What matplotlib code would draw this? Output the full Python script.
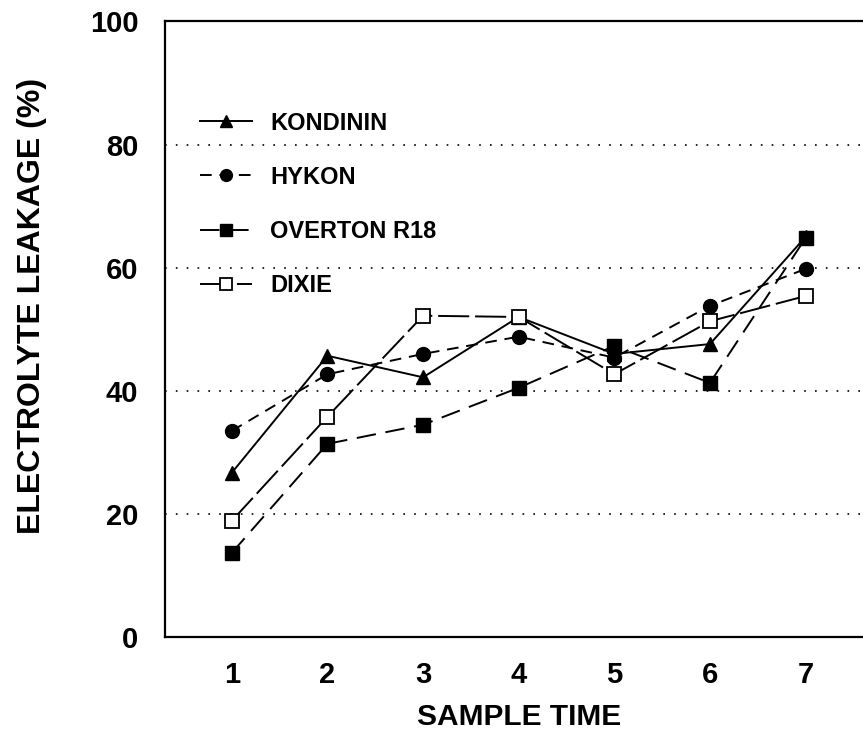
import matplotlib.pyplot as plt

plt.rcParams['font.family'] = ['Liberation Sans', 'DejaVu Sans']
plt.rcParams['font.weight'] = 'bold'

# sample times and leakage values
sample_time = [1, 2, 3, 4, 5, 6, 7]
kondinin = [26.7, 45.7, 42.2, 52.0, 46.0, 47.6, 65.0]
hykon = [33.5, 42.7, 46.0, 48.8, 45.4, 53.8, 59.8]
overton = [13.7, 31.4, 34.5, 40.5, 47.3, 41.3, 64.8]
dixie = [18.9, 35.8, 52.2, 52.0, 42.7, 51.3, 55.4]
grid_levels = [20, 40, 60, 80]

fig = plt.figure(figsize=(8.63, 7.35), dpi=100)
ax = fig.add_axes([0.191, 0.133, 0.82, 0.838])

# dotted reference lines
for g in grid_levels:
    ax.axhline(g, color='black', lw=1.2, ls=(0, (1, 5.5)), zorder=1)

lw = 1.4
ax.plot(sample_time, kondinin, color='black', lw=lw, ls='-',
        marker='^', ms=10, mfc='black', mec='black', label='KONDININ', zorder=3)
ax.plot(sample_time, hykon, color='black', lw=lw, ls=(0, (6, 4)),
        marker='o', ms=10, mfc='black', mec='black', label='HYKON', zorder=3)
ax.plot(sample_time, overton, color='black', lw=lw, ls=(0, (10, 5)),
        marker='s', ms=10, mfc='black', mec='black', label='OVERTON R18', zorder=3)
ax.plot(sample_time, dixie, color='black', lw=lw, ls=(0, (16, 3)),
        marker='s', ms=10, mfc='white', mec='black', mew=1.3, label='DIXIE', zorder=4)

ax.set_xlim(0.3, 7.7)
ax.set_ylim(0, 100)
ax.set_xticks(sample_time)
ax.set_yticks([0, 20, 40, 60, 80, 100])
ax.tick_params(length=0, labelsize=21)
ax.tick_params(axis='x', pad=17)
ax.tick_params(axis='y', pad=19)
for lab in ax.get_xticklabels() + ax.get_yticklabels():
    lab.set_fontweight('bold')

for s in ax.spines.values():
    s.set_linewidth(1.6)
ax.spines['right'].set_visible(False)

ax.set_xlabel('SAMPLE TIME', fontsize=21.5, fontweight='bold', labelpad=10)
fig.text(0.037, 0.584, 'ELECTROLYTE LEAKAGE (%)', rotation=90, ha='center',
         va='center', fontsize=23, fontweight='bold')

leg = ax.legend(loc='upper left', bbox_to_anchor=(0.02, 0.888), frameon=False,
                fontsize=17, handlelength=2.2, handletextpad=0.75,
                labelspacing=1.32, markerscale=0.85)
for t in leg.get_texts():
    t.set_fontweight('bold')

fig.savefig('out.png', dpi=100)
